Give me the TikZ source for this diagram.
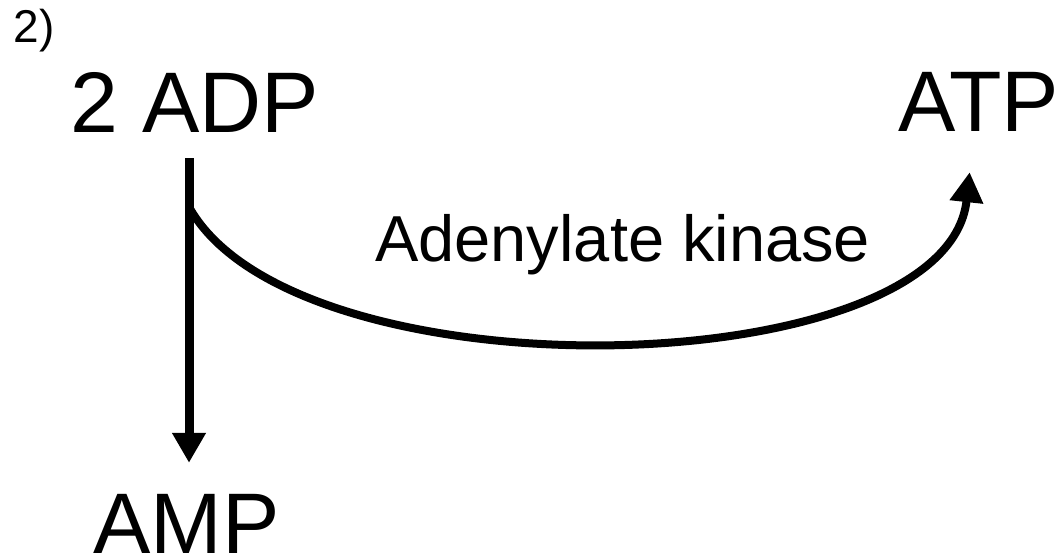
\documentclass[tikz,border=0pt]{standalone}
\usepackage{fontspec}
\setmainfont{Liberation Sans}
\usetikzlibrary{arrows.meta}
\begin{document}
\begin{tikzpicture}[x=1pt,y=-1pt,
  lbl/.style={inner sep=0pt, anchor=base west, font=\fontsize{86}{90}\selectfont},
  arr/.style={line width=9pt, -{Triangle[width=32pt,length=30pt]}},
]
\useasboundingbox (0,0) rectangle (1064,556);
\node[inner sep=0pt, anchor=base west, font=\fontsize{46}{50}\selectfont] (num) at (13.6,43) {2)};
\node[lbl, text depth=25pt] (adp) at (70.5,133) {2 ADP};
\node[lbl, text depth=40pt] (atp) at (898,132) {ATP};
\node[lbl, text height=90pt] (amp) at (93,553) {AMP};
\node[inner sep=0pt, anchor=base west, font=\fontsize{65}{70}\selectfont] (enz) at (375,261) {Adenylate kinase};
\coordinate (stem) at (189,0);
\draw[arr] (adp.south -| stem) -- coordinate[pos=0.16] (branch) (amp.north -| stem);
\draw[arr, line width=8pt] (branch) .. controls +(107,193) and +(-23,213) .. ([xshift=-9pt]atp.south);
\end{tikzpicture}
\end{document}
